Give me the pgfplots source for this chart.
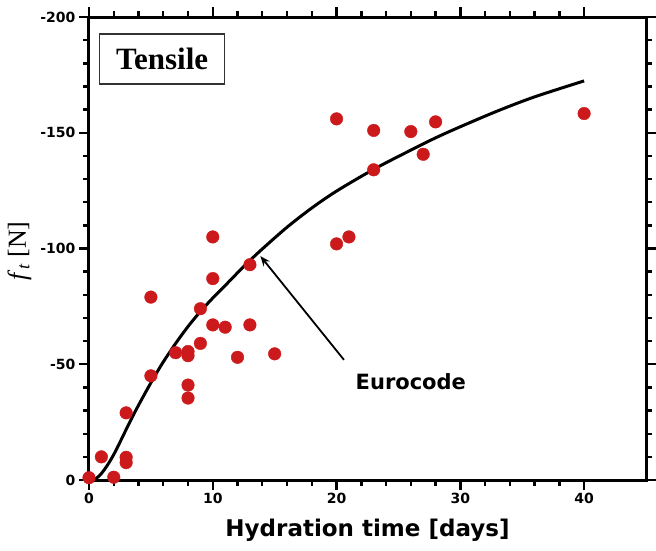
\documentclass[border=0pt]{standalone}
\usepackage{pgfplots}
\pgfplotsset{compat=1.18}
\usepackage{fontspec}
\usetikzlibrary{arrows.meta}
\setmainfont{Liberation Serif}
\newfontfamily\tah{DejaVu Sans}

\definecolor{dotred}{RGB}{204,26,28}

\begin{document}
\begin{tikzpicture}
\begin{axis}[
    scale only axis,
    width=557pt, height=463pt,
    xmin=0, xmax=45,
    ymin=-200, ymax=0,
    y dir=reverse,
    xtick={0,10,20,30,40},
    ytick={-200,-150,-100,-50,0},
    minor x tick num=4,
    minor y tick num=4,
    tick pos=both,
    tick align=outside,
    xticklabel pos=bottom,
    yticklabel pos=left,
    major tick length=10pt,
    minor tick length=6pt,
    axis line style={line width=3pt},
    every tick/.style={black, line width=2.4pt},
    /pgf/number format/assume math mode=true,
    ticklabel style={font=\tah\bfseries\fontsize{14}{15}\selectfont},
    xlabel={Hydration time [days]},
    xlabel style={font=\tah\bfseries\fontsize{23}{26}\selectfont,
        at={(axis description cs:0.5,-0.108)}, anchor=center},
    ylabel={\textit{f}\textsubscript{\textit{t}} [N]},
    ylabel style={font=\fontsize{26}{28}\selectfont,
        at={(axis description cs:-0.125,0.495)}, anchor=center},
    clip=false,
    axis on top,
]

% Eurocode curve
\addplot[black, line width=3pt, smooth, tension=0.5] coordinates {
    (0,0)(0.5,-0.4)(1,-2.8)(1.5,-6.5)(2,-11)(2.5,-16.3)(3,-21.8)(3.5,-27.2)
    (4,-32.3)(4.5,-37.2)(5,-42)(5.5,-46.6)(6,-51)(7,-59)(8,-66.3)(9,-72.8)
    (10,-78.6)(11,-84)(12,-89.5)(13,-94.8)(14,-99.8)(16,-109.2)(18,-117.5)
    (20,-124.8)(23,-134.2)(26,-142.5)(28,-147.8)(30,-152.6)(33,-159.4)
    (36,-165.5)(40,-172.4)
};

% measured
\addplot[only marks, mark=*, mark size=6.3pt, color=dotred,
    mark options={draw=dotred, fill=dotred}] coordinates {
    (0,-1)(1,-10)(2,-1.2)(3,-29)(3,-9.8)(3,-7.5)(5,-79)(5,-45)
    (7,-55)(8,-55.5)(8,-53.7)(8,-41)(8,-35.4)(9,-74)(9,-59)
    (10,-105)(10,-87)(10,-67)(11,-66)(12,-53)(13,-93)(13,-67)(15,-54.5)
    (20,-156)(20,-102)(21,-105)(23,-151)(23,-134)(26,-150.5)(27,-140.7)
    (28,-154.7)(40,-158.3)
};

\node[draw=black!80, line width=1.3pt, minimum width=125pt, minimum height=50pt,
    anchor=north west, font=\bfseries\fontsize{31}{31}\selectfont, inner sep=0pt]
    at (axis description cs:0.018,0.965) {Tensile};

\draw[-{Stealth[length=10pt,width=8pt]}, line width=1.8pt]
    (axis cs:20.6,-51.9) -- (axis cs:13.85,-96.7);
\node[font=\tah\bfseries\fontsize{21}{22}\selectfont]
    at (axis cs:26.0,-42.5) {Eurocode};
\end{axis}
\pgfresetboundingbox
\path[use as bounding box] ([xshift=-89pt,yshift=-71pt]current axis.south west)
    rectangle ([xshift=10pt,yshift=17pt]current axis.north east);
\end{tikzpicture}
\end{document}
